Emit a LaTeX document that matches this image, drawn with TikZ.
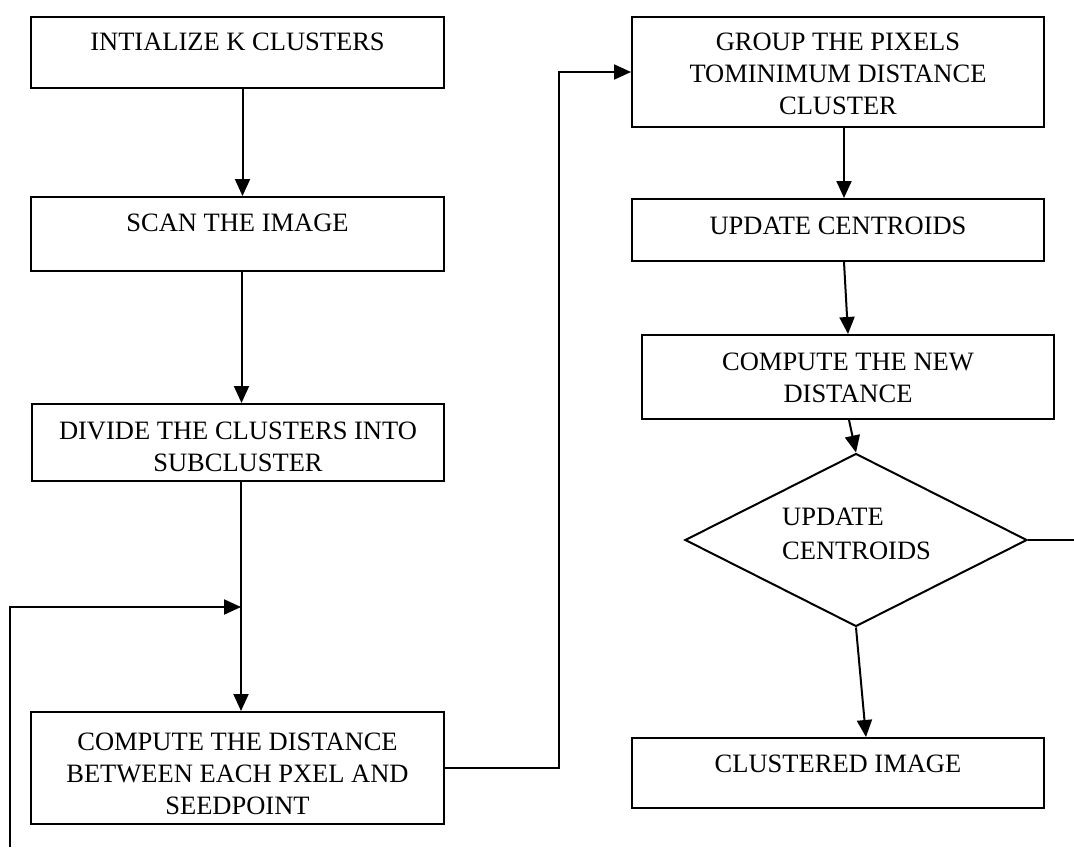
\documentclass[tikz,border=0pt]{standalone}
\usepackage{fontspec}
\setmainfont{Liberation Serif}
\usetikzlibrary{arrows.meta,positioning,shapes.geometric}
\begin{document}
\begin{tikzpicture}[x=1pt,y=-1pt,
  box/.style={draw, line width=2pt, inner sep=0pt, anchor=north west},
  lbl/.style={inner sep=0pt, align=center, font=\fontsize{26.5}{32}\selectfont},
  conn/.style={line width=2pt},
  arr/.style={line width=2pt, -{Triangle[length=17pt,width=15pt]}}]
\useasboundingbox (0,0) rectangle (1074,847);
% left column
\node[box, minimum width=413pt, minimum height=71pt] (b1) at (30,16) {};
\node[box, minimum width=413pt, minimum height=74pt] (b2) at (30,196) {};
\node[box, minimum width=412pt, minimum height=77pt] (b3) at (31,403) {};
\node[box, minimum width=413pt, minimum height=112pt] (b4) at (30,711) {};
% right column
\node[box, minimum width=412pt, minimum height=110pt] (b5) at (631,16) {};
\node[box, minimum width=412pt, minimum height=62pt] (b6) at (631,198) {};
\node[box, minimum width=412pt, minimum height=84pt] (b7) at (641,334) {};
\node[draw, line width=2pt, diamond, inner sep=0pt, minimum width=342pt, minimum height=173pt] (d) at (856,540) {};
\node[box, minimum width=412pt, minimum height=70pt] (b9) at (631,737) {};
% texts
\node[lbl, below=17pt of b1.north] (t1) {INTIALIZE K CLUSTERS};
\node[lbl, below=18pt of b2.north] (t2) {SCAN THE IMAGE};
\node[lbl, below=19pt of b3.north] (t3) {DIVIDE THE CLUSTERS INTO\\SUBCLUSTER};
\node[lbl, below=22pt of b4.north] (t4) {COMPUTE THE DISTANCE\\BETWEEN EACH PXEL AND\\SEEDPOINT};
\node[lbl, below=17pt of b5.north] (t5) {GROUP THE PIXELS\\TOMINIMUM DISTANCE\\CLUSTER};
\node[lbl, below=19pt of b6.north] (t6) {UPDATE CENTROIDS};
\node[lbl, below=19pt of b7.north] (t7) {COMPUTE THE NEW\\DISTANCE};
\node[lbl, align=left, anchor=north west, font=\fontsize{26.5}{34}\selectfont] (t8) at (782,508) {UPDATE\\CENTROIDS};
\node[lbl, below=18pt of b9.north] (t9) {CLUSTERED IMAGE};
% connectors left
\draw[arr] ([xshift=5pt]b1.south) -- ([xshift=5pt]b1.south |- b2.north);
\draw[arr] ([xshift=4pt]b2.south) -- ([xshift=4pt]b2.south |- b3.north);
\draw[arr] ([xshift=3pt]b3.south) -- ([xshift=3pt]b3.south |- b4.north);
\coordinate (m) at ([xshift=3pt]b3.south |- 0,607);
\coordinate (fb) at (10,847);
\draw[arr] (fb) |- (m);
\draw[arr] (b4.east) -- ++(114,0) |- (b5.west);
% connectors right
\draw[arr] ([xshift=6pt]b5.south) -- ([xshift=6pt]b5.south |- b6.north);
\draw[arr] ([xshift=6pt]b6.south) -- (b7.north);
\draw[arr] ([xshift=1pt]b7.south) -- (d.north);
\coordinate (rend) at (d.east -| 1074,0);
\draw[conn] (d.east) -- (rend);
\draw[arr] (d.south) -- ([xshift=28pt]b9.north);
\end{tikzpicture}
\end{document}
